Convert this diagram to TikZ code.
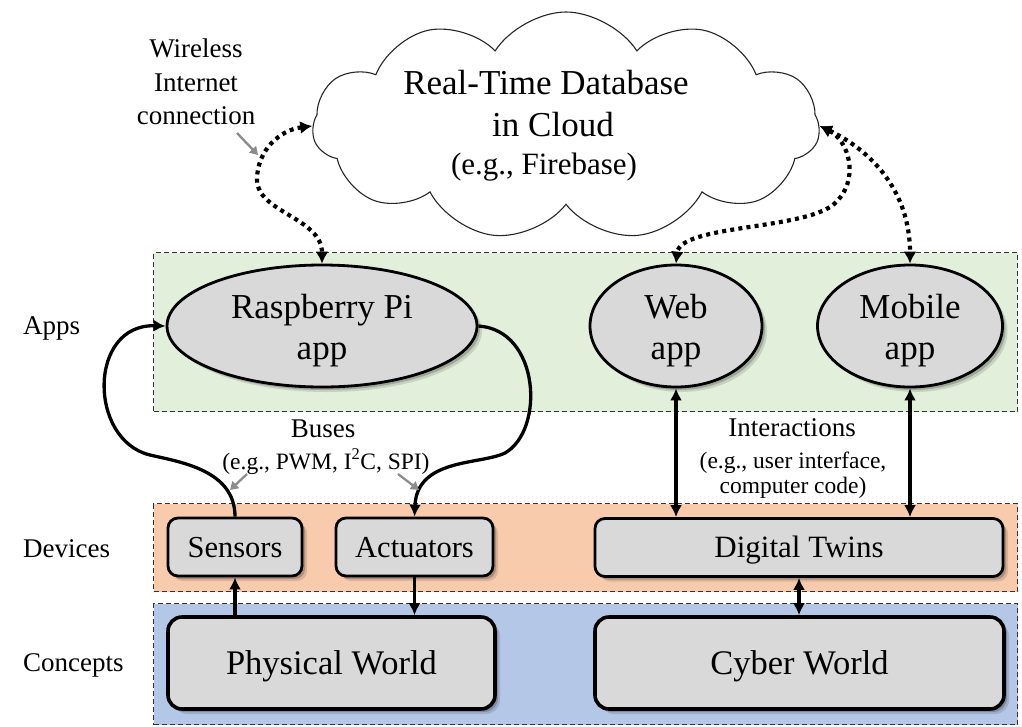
\documentclass[tikz,border=0pt]{standalone}
\usepackage{fontspec}
\setmainfont{Liberation Serif}
\usetikzlibrary{arrows.meta,shapes.geometric,shapes.symbols,shadows}
\definecolor{appgreen}{HTML}{E2EFDA}
\definecolor{devorange}{HTML}{F8CBAD}
\definecolor{conblue}{HTML}{B4C7E7}
\definecolor{boxgray}{HTML}{D9D9D9}
\definecolor{pointgray}{HTML}{8C8C8C}
\tikzset{
  panel/.style={draw=black!80, dashed, dash pattern=on 5pt off 3pt, line width=1.1pt, anchor=north west, inner sep=0pt},
  myshadow/.style={drop shadow={shadow xshift=5pt,shadow yshift=-5pt,opacity=0.12,fill=black},
                   drop shadow={shadow xshift=3pt,shadow yshift=-3pt,opacity=0.2,fill=black}},
  appnode/.style={ellipse, draw=black, line width=2.8pt, fill=boxgray, myshadow, inner sep=0pt, minimum height=122pt},
  apptext/.style={inner sep=0pt, anchor=base, font=\fontsize{35}{42}\selectfont},
  devbox/.style={rectangle, rounded corners=10pt, draw=black, line width=2.8pt, fill=boxgray, myshadow, inner sep=0pt, minimum height=58pt, text height=26pt, text depth=6pt, font=\fontsize{30.5}{36}\selectfont},
  conbox/.style={rectangle, rounded corners=14pt, draw=black, line width=3.6pt, fill=boxgray, myshadow, inner sep=0pt, minimum height=92pt, text height=27pt, text depth=5pt, font=\fontsize{34.5}{40}\selectfont},
  lbl/.style={inner sep=0pt, font=\fontsize{27}{33.5}\selectfont, align=center},
  smalllbl/.style={inner sep=0pt, font=\fontsize{23.5}{25.5}\selectfont, align=center},
  thickarrow/.style={line width=3.3pt, -{Latex[length=12pt,width=12pt]}},
  thickdouble/.style={line width=3.3pt, {Latex[length=12pt,width=12pt]}-{Latex[length=12pt,width=12pt]}},
  dotarrow/.style={line width=4.2pt, dash pattern=on 4pt off 4.2pt, {Latex[length=12pt,width=13pt]}-{Latex[length=12pt,width=13pt]}},
  pointer/.style={draw=pointgray, line width=2.3pt, -{Triangle[length=8pt,width=9.5pt]}},
}
\begin{document}
\begin{tikzpicture}[x=1pt,y=-1pt]
\useasboundingbox (0,0) rectangle (1022,726);
\fill[white] (0,0) rectangle (1022,726);

% panels
\node[panel, fill=appgreen, minimum width=864pt, minimum height=159pt] (appspanel) at (153,252) {};
\node[panel, fill=devorange, minimum width=864pt, minimum height=88pt] (devpanel) at (153,503) {};
\node[panel, fill=conblue, minimum width=864pt, minimum height=121pt] (conpanel) at (153,603) {};

% left labels
\node[lbl, anchor=west] (lblapps) at (23,328) {Apps};
\node[lbl, anchor=west] (lbldev) at (23,549) {Devices};
\node[lbl, anchor=west] (lblcon) at (23,665) {Concepts};

% cloud
\node[cloud, draw=black!85, line width=1.1pt, fill=white, cloud puffs=11, cloud puff arc=115, aspect=2.2, minimum width=507pt, minimum height=228pt, inner sep=0pt] (cloud) at (566,126) {};
\node[apptext] (cloudt1) at (546,94) {Real-Time Database};
\node[apptext] (cloudt2) at (553,136) {in Cloud};
\node[apptext, font=\fontsize{31}{37}\selectfont] (cloudt3) at (544,174) {(e.g., Firebase)};

% wireless label
\node[lbl] (wireless) at (196,82) {Wireless\\Internet\\connection};

% apps
\node[appnode, minimum width=310pt] (rpi) at (322,326) {};
\node[apptext] (rpit1) at (322,318) {Raspberry Pi};
\node[apptext] (rpit2) at (322,359) {app};
\node[appnode, minimum width=172pt] (web) at (676,326) {};
\node[apptext] (webt1) at (676,318) {Web};
\node[apptext] (webt2) at (676,359) {app};
\node[appnode, minimum width=185pt] (mobile) at (910,326) {};
\node[apptext] (mobt1) at (910,318) {Mobile};
\node[apptext] (mobt2) at (910,359) {app};

% devices
\node[devbox, minimum width=134pt] (sensors) at (235,547) {Sensors};
\node[devbox, minimum width=157pt] (actuators) at (414.5,547) {Actuators};
\node[devbox, minimum width=408pt, font=\fontsize{31}{36}\selectfont] (twins) at (799,547.5) {Digital Twins};

% concepts
\node[conbox, minimum width=327pt] (physical) at (331.5,663) {Physical World};
\node[conbox, minimum width=409pt] (cyber) at (799.5,663) {Cyber World};

% middle labels
\node[lbl, anchor=base] (buses) at (323,437) {Buses};
\node[smalllbl, anchor=base] (busesex) at (326,469) {(e.g., PWM, I\textsuperscript{2}C, SPI)};
\node[lbl, anchor=base] (inter) at (792,436) {Interactions};
\node[smalllbl, anchor=base] (interex1) at (793,468) {(e.g., user interface,};
\node[smalllbl, anchor=base] (interex2) at (793,493) {computer code)};

% dotted wireless links
\draw[dotarrow] (cloud.west) .. controls (280,130) and (257,150) .. (257,180)
   .. controls (257,212) and (322,218) .. (rpi.north);
\draw[dotarrow] (cloud.east) .. controls (848,140) and (862,180) .. (833,205)
   .. controls (800,230) and (680,225) .. (web.north);
\draw[dotarrow] (cloud.east) .. controls (870,150) and (910,190) .. (mobile.north);

% bus arrows
\draw[thickarrow] (sensors.north) .. controls (235,470) and (180,462) .. (150,455)
   .. controls (88,440) and (88,324) .. (rpi.west);
\draw[thickarrow] (rpi.east) .. controls (540,330) and (545,430) .. (505,453)
   .. controls (480,465) and (417,458) .. (actuators.north);

% vertical arrows
\draw[thickdouble] (web.south) -- (web.south |- twins.north);
\draw[thickdouble] (mobile.south) -- (mobile.south |- twins.north);
\draw[thickarrow] (physical.north -| sensors.south) -- (sensors.south);
\draw[thickarrow] (actuators.south) -- (actuators.south |- physical.north);
\draw[thickdouble] (twins.south) -- (twins.south |- cyber.north);

% gray pointers
\coordinate (pw1) at (237,133);
\coordinate (pw2) at (258,155);
\draw[pointer] (pw1) -- (pw2);
\coordinate (pb1) at (247,474);
\coordinate (pb2) at (230,490);
\draw[pointer] (pb1) -- (pb2);
\coordinate (pb3) at (398,474);
\coordinate (pb4) at (419,490);
\draw[pointer] (pb3) -- (pb4);
\end{tikzpicture}
\end{document}
